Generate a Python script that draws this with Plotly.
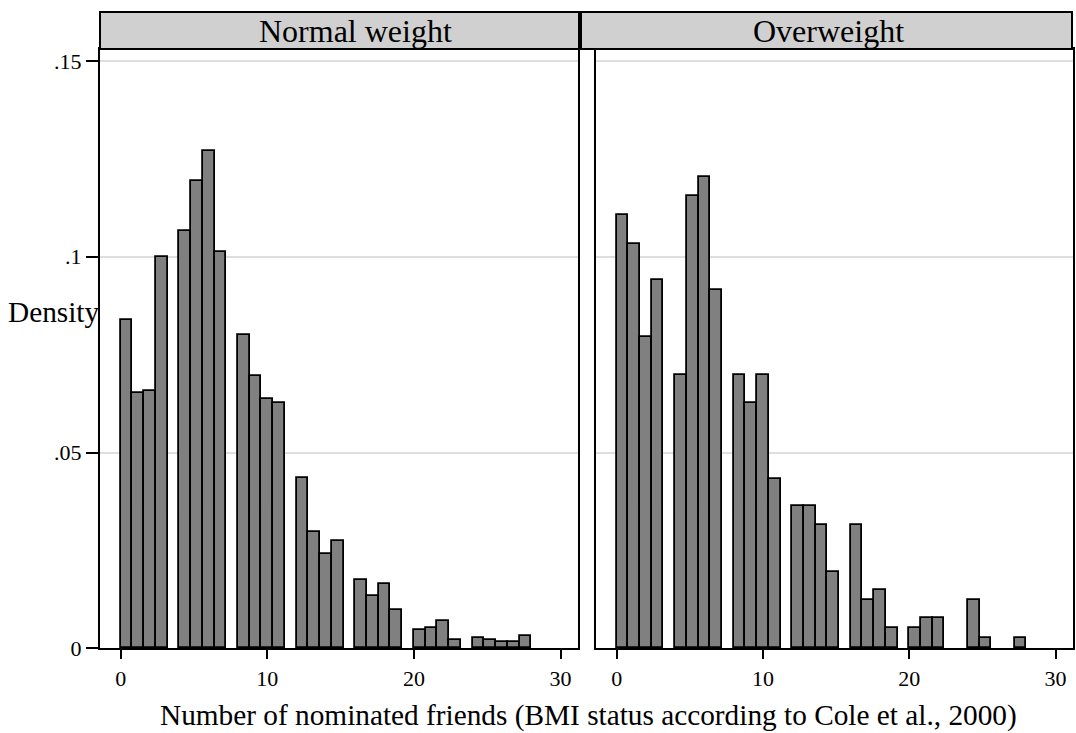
import plotly.graph_objects as go

# ---- data ----
panel_titles = ["Normal weight", "Overweight"]
bin_width = 0.8
bin_starts = [0.0, 0.8, 1.6, 2.4, 4.0, 4.8, 5.6, 6.4, 8.0, 8.8, 9.6, 10.4,
              12.0, 12.8, 13.6, 14.4, 16.0, 16.8, 17.6, 18.4, 20.0, 20.8, 21.6, 22.4,
              24.0, 24.8, 25.6, 26.4, 27.2]
density_normal = [0.0837, 0.0652, 0.0657, 0.1000, 0.1065, 0.1193, 0.1269, 0.1012,
                  0.0801, 0.0695, 0.0636, 0.0627, 0.0436, 0.0298, 0.0242, 0.0273,
                  0.0175, 0.0134, 0.0164, 0.0098, 0.0047, 0.0051, 0.0071, 0.0021,
                  0.0026, 0.0020, 0.0015, 0.0015, 0.0031]
density_over = [0.1105, 0.1032, 0.0796, 0.0940, 0.0699, 0.1156, 0.1202, 0.0914,
                0.0699, 0.0627, 0.0699, 0.0431, 0.0363, 0.0363, 0.0314, 0.0196,
                0.0314, 0.0123, 0.0149, 0.0051, 0.0051, 0.0077, 0.0077, 0.0,
                0.0123, 0.0026, 0.0, 0.0, 0.0026]
x_ticks = [0, 10, 20, 30]
y_ticks = [0, 0.05, 0.10, 0.15]
y_tick_labels = ["0", ".05", ".1", ".15"]
y_title = "Density"
x_title = "Number of nominated friends (BMI status according to Cole et al., 2000)"

# the captured viewport is a little taller than 733 px, so the figure is made
# to fill it and reference y positions are scaled accordingly
W, H = 1076, 747
SY = H / 733.0
FONT = "Liberation Serif, Times New Roman, serif"

def px(x):
    return x / W

def py(y):
    return (H - y * SY) / H

fig = go.Figure()
for i, dens in enumerate([density_normal, density_over]):
    xs = [s for s, d in zip(bin_starts, dens) if d > 0]
    ys = [d for d in dens if d > 0]
    fig.add_trace(go.Bar(
        x=xs, y=ys, width=bin_width, offset=0,
        marker=dict(color="#808080", line=dict(color="black", width=1.8)),
        xaxis="x" if i == 0 else "x2", yaxis="y" if i == 0 else "y2",
        showlegend=False, hoverinfo="skip"))

left_dom = [px(100), px(578)]
right_dom = [px(596), px(1073)]
ydom = [py(647.5), py(49)]
xr = [-1.41, 31.19]
yr = [0, 0.153]

common_x = dict(range=xr, tickvals=x_ticks, ticks="outside", ticklen=9, tickwidth=1.5,
                tickcolor="black", showline=True, linecolor="black", linewidth=2,
                mirror=True, showgrid=False, zeroline=False, ticklabelstandoff=0,
                tickfont=dict(family=FONT, size=22, color="black"))
common_y = dict(range=yr, tickvals=y_ticks, showline=True, linecolor="black",
                linewidth=2, mirror=True, showgrid=True, gridcolor="#dedede",
                gridwidth=2, zeroline=False, domain=ydom)

fig.update_layout(
    width=W, height=H,
    margin=dict(l=0, r=0, t=0, b=0),
    paper_bgcolor="white", plot_bgcolor="white",
    bargap=0,
    xaxis=dict(domain=left_dom, anchor="y", **common_x),
    xaxis2=dict(domain=right_dom, anchor="y2", **common_x),
    yaxis=dict(anchor="x", ticktext=y_tick_labels, ticks="outside", ticklen=12,
               tickwidth=1.5, tickcolor="black",
               tickfont=dict(family=FONT, size=22, color="black"), **common_y),
    yaxis2=dict(anchor="x2", showticklabels=False, ticks="", **common_y),
    font=dict(family=FONT, color="black"),
)

# panel header boxes
hdr = [(100, 579), (581, 1072)]
for (a, b), t, cx in zip(hdr, panel_titles, [355, 828]):
    fig.add_shape(type="rect", xref="paper", yref="paper",
                  x0=px(a), x1=px(b), y0=py(49), y1=py(12),
                  fillcolor="#d0d0d0", line=dict(color="black", width=2), layer="above")
    fig.add_annotation(x=px(cx), y=py(31), xref="paper", yref="paper", text=t,
                       showarrow=False, xanchor="center", yanchor="middle",
                       font=dict(family=FONT, size=32, color="black"))

fig.add_annotation(x=px(101), y=py(312), xref="paper", yref="paper", text=y_title,
                   showarrow=False, xanchor="right", yanchor="middle",
                   font=dict(family=FONT, size=29.3, color="black"))
fig.add_annotation(x=px(588), y=py(715), xref="paper", yref="paper", text=x_title,
                   showarrow=False, xanchor="center", yanchor="middle",
                   font=dict(family=FONT, size=29.3, color="black"))

fig.write_html("out.html", config={"displayModeBar": False},
               post_script="document.body.style.margin='0';"
                           "document.documentElement.style.overflow='hidden';"
                           "document.body.style.overflow='hidden';")
